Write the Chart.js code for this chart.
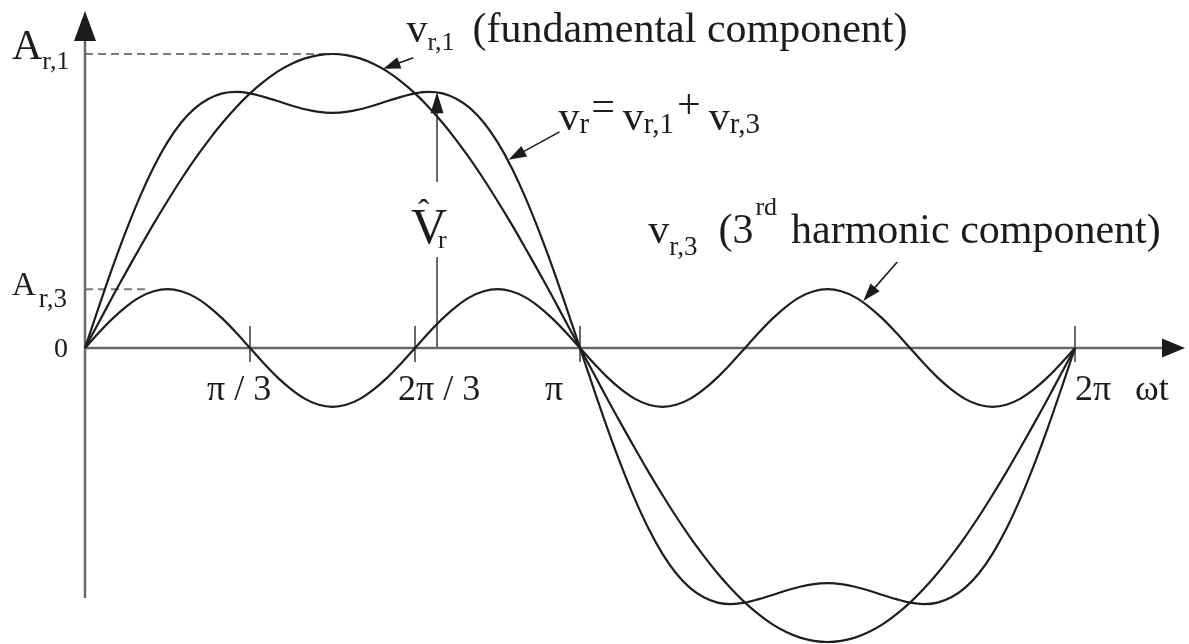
<!DOCTYPE html>
<html>
<head>
<meta charset="utf-8">
<script src="https://cdn.jsdelivr.net/npm/chart.js@4.4.1/dist/chart.umd.min.js"></script>
<style>
  html, body { margin: 0; padding: 0; background: #fff; overflow: hidden; }
  canvas { display: block; }
</style>
</head>
<body>
<canvas id="wave" width="1189" height="644"></canvas>
<script>
// Electrical angle ωt in degrees, one full period in 5° steps
const angleDeg = [
  0,5,10,15,20,25,30,35,40,45,50,55,60,65,70,75,80,85,90,
  95,100,105,110,115,120,125,130,135,140,145,150,155,160,165,170,175,180,
  185,190,195,200,205,210,215,220,225,230,235,240,245,250,255,260,265,270,
  275,280,285,290,295,300,305,310,315,320,325,330,335,340,345,350,355,360
];

// v_r,1 : fundamental component (per unit of A_r,1)
const fundamental = [
  0,0.087,0.174,0.259,0.342,0.423,0.500,0.574,0.643,0.707,0.766,0.819,0.866,0.906,0.940,0.966,0.985,0.996,1.000,
  0.996,0.985,0.966,0.940,0.906,0.866,0.819,0.766,0.707,0.643,0.574,0.500,0.423,0.342,0.259,0.174,0.087,0,
  -0.087,-0.174,-0.259,-0.342,-0.423,-0.500,-0.574,-0.643,-0.707,-0.766,-0.819,-0.866,-0.906,-0.940,-0.966,-0.985,-0.996,-1.000,
  -0.996,-0.985,-0.966,-0.940,-0.906,-0.866,-0.819,-0.766,-0.707,-0.643,-0.574,-0.500,-0.423,-0.342,-0.259,-0.174,-0.087,0
];

// v_r,3 : 3rd harmonic component
const thirdHarmonic = [
  0,0.052,0.100,0.141,0.173,0.193,0.200,0.193,0.173,0.141,0.100,0.052,0,-0.052,-0.100,-0.141,-0.173,-0.193,-0.200,
  -0.193,-0.173,-0.141,-0.100,-0.052,0,0.052,0.100,0.141,0.173,0.193,0.200,0.193,0.173,0.141,0.100,0.052,0,
  -0.052,-0.100,-0.141,-0.173,-0.193,-0.200,-0.193,-0.173,-0.141,-0.100,-0.052,0,0.052,0.100,0.141,0.173,0.193,0.200,
  0.193,0.173,0.141,0.100,0.052,0,-0.052,-0.100,-0.141,-0.173,-0.193,-0.200,-0.193,-0.173,-0.141,-0.100,-0.052,0
];

// v_r = v_r,1 + v_r,3 : flat-topped reference
const resultant = [
  0,0.139,0.274,0.400,0.515,0.616,0.700,0.767,0.816,0.848,0.866,0.871,0.866,0.854,0.840,0.825,0.812,0.803,0.800,
  0.803,0.812,0.825,0.840,0.854,0.866,0.871,0.866,0.848,0.816,0.767,0.700,0.616,0.515,0.400,0.274,0.139,0,
  -0.139,-0.274,-0.400,-0.515,-0.616,-0.700,-0.767,-0.816,-0.848,-0.866,-0.871,-0.866,-0.854,-0.840,-0.825,-0.812,-0.803,-0.800,
  -0.803,-0.812,-0.825,-0.840,-0.854,-0.866,-0.871,-0.866,-0.848,-0.816,-0.767,-0.700,-0.616,-0.515,-0.400,-0.274,-0.139,0
];

// Amplitudes marked on the vertical axis
const ampFundamental = 1.00;   // A_r,1
const ampThird = 0.20;         // A_r,3

// Ticks on the ωt axis
const tickAngles = [60, 120, 180, 360];
const tickLabels = ['π / 3', '2π / 3', 'π', '2π'];

// Peak of the resultant, marked by the V̂_r arrow
const peakAngle = 128;
const peakValue = 0.87;

const FONT = '"Liberation Serif", "Times New Roman", serif';
const INK = '#1c1c1c';
const AXIS = '#686868';

function toPoints(values) {
  return angleDeg.map((a, i) => ({ x: a, y: values[i] }));
}

function arrowHead(ctx, tx, ty, fx, fy, len, half) {
  const ang = Math.atan2(ty - fy, tx - fx);
  const bx = tx - len * Math.cos(ang), by = ty - len * Math.sin(ang);
  const nx = -Math.sin(ang) * half, ny = Math.cos(ang) * half;
  ctx.beginPath();
  ctx.moveTo(tx, ty);
  ctx.lineTo(bx + nx, by + ny);
  ctx.lineTo(bx - nx, by - ny);
  ctx.closePath();
  ctx.fill();
}

function arrow(ctx, fx, fy, tx, ty, len, half) {
  const ang = Math.atan2(ty - fy, tx - fx);
  ctx.beginPath();
  ctx.moveTo(fx, fy);
  ctx.lineTo(tx - (len - 2) * Math.cos(ang), ty - (len - 2) * Math.sin(ang));
  ctx.stroke();
  arrowHead(ctx, tx, ty, fx, fy, len, half);
}

// Draws a run of text pieces: [text, size, dx, dy]
function textRuns(ctx, x, y, runs) {
  let cx = x;
  for (const [t, size, dx = 0, dy = 0] of runs) {
    cx += dx;
    ctx.font = size + 'px ' + FONT;
    ctx.fillText(t, cx, y + dy);
    cx += ctx.measureText(t).width;
  }
}

const axesPlugin = {
  id: 'axes',
  beforeDatasetsDraw(chart) {
    const { ctx, scales: { x, y } } = chart;
    const x0 = x.getPixelForValue(0);
    const y0 = y.getPixelForValue(0);
    const xEnd = x.getPixelForValue(400);
    ctx.save();
    ctx.lineCap = 'butt';

    // dashed amplitude guides
    ctx.strokeStyle = '#7a7a7a';
    ctx.lineWidth = 2;
    ctx.setLineDash([8, 5]);
    const y1 = y.getPixelForValue(ampFundamental);
    const y3 = y.getPixelForValue(ampThird);
    ctx.beginPath();
    ctx.moveTo(x0, y1); ctx.lineTo(x.getPixelForValue(94), y1);
    ctx.moveTo(x0, y3); ctx.lineTo(x.getPixelForValue(23), y3);
    ctx.stroke();
    ctx.setLineDash([]);

    // vertical axis
    ctx.strokeStyle = AXIS;
    ctx.lineWidth = 2.5;
    ctx.beginPath();
    ctx.moveTo(x0, y.getPixelForValue(-0.85));
    ctx.lineTo(x0, y1 - 16);
    ctx.stroke();
    // horizontal axis
    ctx.beginPath();
    ctx.moveTo(x0, y0);
    ctx.lineTo(xEnd - 20, y0);
    ctx.stroke();

    ctx.fillStyle = INK;
    arrowHead(ctx, x0, y1 - 43, x0, y1, 30, 11);
    arrowHead(ctx, xEnd, y0, x0, y0, 23, 9.5);

    // ticks
    ctx.strokeStyle = AXIS;
    ctx.lineWidth = 2;
    ctx.beginPath();
    for (const a of tickAngles) {
      const px = x.getPixelForValue(a);
      ctx.moveTo(px, y0 - 22);
      ctx.lineTo(px, y0 + 14);
    }
    ctx.stroke();

    // V̂_r arrow (with a gap for its label)
    const px = x.getPixelForValue(peakAngle);
    const yTop = y.getPixelForValue(peakValue);
    ctx.beginPath();
    ctx.moveTo(px, y0);
    ctx.lineTo(px, y0 - 91);
    ctx.moveTo(px, y0 - 166);
    ctx.lineTo(px, yTop + 18);
    ctx.stroke();
    ctx.fillStyle = INK;
    arrowHead(ctx, px, yTop, px, y0, 21, 6.5);
    ctx.restore();
  },
  afterDatasetsDraw(chart) {
    const { ctx, scales: { x, y } } = chart;
    const x0 = x.getPixelForValue(0);
    const y0 = y.getPixelForValue(0);
    ctx.save();
    ctx.fillStyle = INK;
    ctx.textBaseline = 'alphabetic';
    ctx.textAlign = 'left';

    // vertical axis labels
    const y1 = y.getPixelForValue(ampFundamental);
    const y3 = y.getPixelForValue(ampThird);
    textRuns(ctx, x0 - 73, y1 + 5, [['A', 42], ['r,1', 26, 0, 10]]);
    textRuns(ctx, x0 - 73, y3 + 6, [['A', 33], ['r,3', 27, 3, 12]]);
    ctx.textAlign = 'right';
    ctx.font = '28px ' + FONT;
    ctx.fillText('0', x0 - 17, y0 + 9);
    ctx.textAlign = 'left';

    // ωt axis labels
    const offsets = [-43, -17, -35, 0];
    ctx.font = '36px ' + FONT;
    tickAngles.forEach((a, i) => {
      ctx.fillText(tickLabels[i], x.getPixelForValue(a) + offsets[i], y0 + 52);
    });
    ctx.fillText('ωt', x.getPixelForValue(360) + 60, y0 + 52);

    // V̂_r label
    const px = x.getPixelForValue(peakAngle);
    ctx.font = '50px ' + FONT;
    ctx.fillText('V', px - 26, y0 - 105);
    ctx.font = '34px ' + FONT;
    ctx.fillText('ˆ', px - 19, y0 - 125);
    ctx.font = '26px ' + FONT;
    ctx.fillText('r', px + 1, y0 - 100);

    // annotation arrows
    ctx.strokeStyle = INK;
    ctx.lineWidth = 1.6;
    let tx = x.getPixelForValue(108.5), ty = y.getPixelForValue(0.95);
    arrow(ctx, tx + 30, ty - 11, tx, ty, 17, 6);
    const l1x = tx + 23, l1y = ty - 27;

    tx = x.getPixelForValue(154); ty = y.getPixelForValue(0.64);
    arrow(ctx, tx + 51, ty - 28, tx, ty, 18, 6);
    const l2x = tx + 50, l2y = ty - 30;

    tx = x.getPixelForValue(283); ty = y.getPixelForValue(0.16);
    arrow(ctx, tx + 34, ty - 39, tx, ty, 18, 6);
    const l3x = tx - 215, l3y = ty - 58;

    // component labels
    textRuns(ctx, l1x, l1y, [['v', 42], ['r,1', 26, 0, 8], ['(fundamental component)', 42, 18, 0]]);
    textRuns(ctx, l2x, l2y, [
      ['v', 42], ['r', 29, 0, 3], ['=', 42, 2, -10], ['v', 42, 8, 0], ['r,1', 29, 0, 3],
      ['+', 42, 3, -12], ['v', 42, 8, 0], ['r,3', 29, 0, 3]
    ]);
    textRuns(ctx, l3x, l3y, [
      ['v', 42], ['r,3', 27, 0, 12], ['(3', 42, 21, 0], ['rd', 26, 2, -28], ['harmonic component)', 42, 14, 0]
    ]);
    ctx.restore();
  }
};

const lineStyle = {
  borderColor: '#1e1e1e',
  borderWidth: 2.2,
  pointRadius: 0,
  fill: false,
  clip: false,
  tension: 0.3
};

new Chart(document.getElementById('wave'), {
  type: 'line',
  data: {
    datasets: [
      Object.assign({ label: 'v_r,1', data: toPoints(fundamental) }, lineStyle),
      Object.assign({ label: 'v_r,3', data: toPoints(thirdHarmonic) }, lineStyle),
      Object.assign({ label: 'v_r', data: toPoints(resultant) }, lineStyle)
    ]
  },
  options: {
    responsive: false,
    animation: false,
    devicePixelRatio: 1,
    events: [],
    layout: { padding: { left: 85, right: 114, top: 54, bottom: 2 } },
    plugins: { legend: { display: false }, tooltip: { enabled: false } },
    scales: {
      x: { type: 'linear', min: 0, max: 360, display: false },
      y: { min: -1, max: 1, display: false }
    }
  },
  plugins: [axesPlugin]
});
</script>
</body>
</html>
